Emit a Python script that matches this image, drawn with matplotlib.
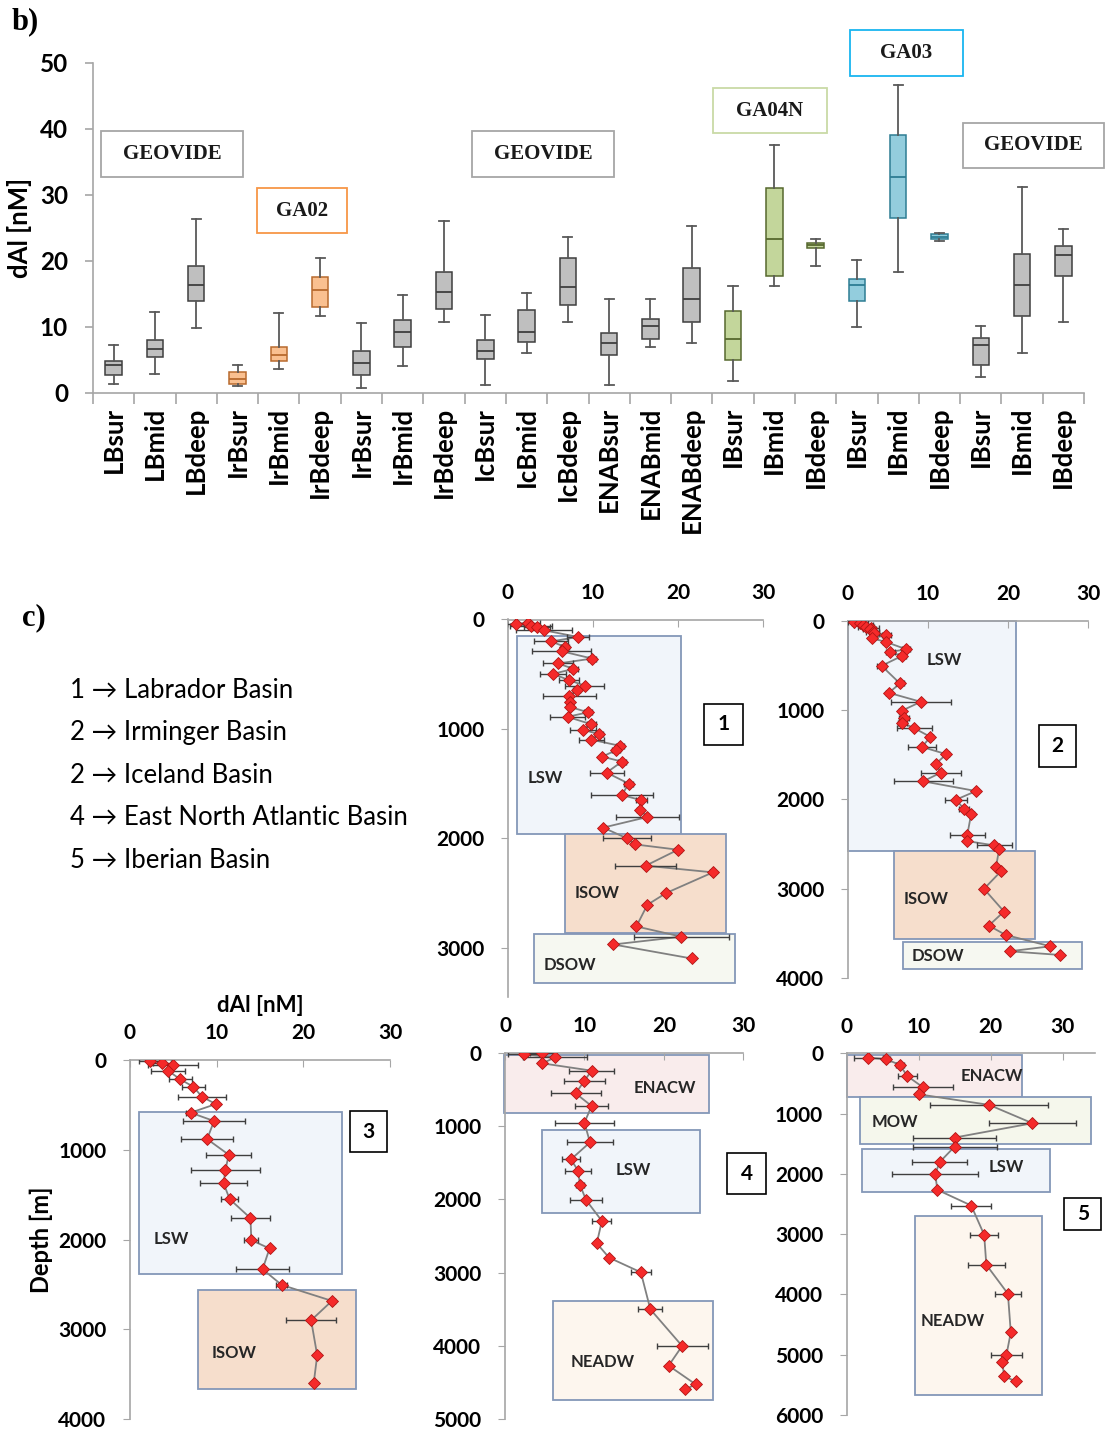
import numpy as np
import matplotlib
matplotlib.use("Agg")
import matplotlib.pyplot as plt
from matplotlib.patches import Rectangle

W, H = 1105, 1431
SANS = ['Lato', 'DejaVu Sans']
SERIF = ['Liberation Serif', 'DejaVu Serif']

# ---------------- b) box plot data ----------------
cats = ['LBsur', 'LBmid', 'LBdeep', 'IrBsur', 'IrBmid', 'IrBdeep', 'IrBsur', 'IrBmid', 'IrBdeep',
        'IcBsur', 'IcBmid', 'IcBdeep', 'ENABsur', 'ENABmid', 'ENABdeep', 'IBsur', 'IBmid', 'IBdeep',
        'IBsur', 'IBmid', 'IBdeep', 'IBsur', 'IBmid', 'IBdeep']
whis_lo = [1.4, 2.9, 9.9, 1.0, 3.7, 11.6, 0.7, 4.1, 10.8, 1.2, 6.0, 10.7, 1.2, 7.0, 7.6, 1.8, 16.2, 19.3,
           10.0, 18.3, 23.1, 2.4, 6.1, 10.8]
q1 = [2.7, 5.5, 14.0, 1.3, 4.9, 13.1, 2.7, 7.0, 12.8, 5.2, 7.8, 13.4, 5.8, 8.2, 10.8, 5.0, 17.8, 22.0,
      13.9, 26.5, 23.4, 4.2, 11.6, 17.8]
med = [4.3, 6.6, 16.3, 2.1, 5.7, 15.6, 4.5, 9.2, 15.3, 6.4, 9.3, 16.1, 7.6, 10.2, 14.3, 8.2, 23.3, 22.4,
       16.3, 32.8, 23.7, 7.3, 16.4, 20.9]
q3 = [4.9, 8.1, 19.3, 3.2, 7.0, 17.6, 6.4, 11.1, 18.4, 8.0, 12.6, 20.4, 9.1, 11.2, 19.0, 12.4, 31.0, 22.8,
      17.2, 39.1, 24.1, 8.3, 21.0, 22.3]
whis_hi = [7.2, 12.3, 26.4, 4.2, 12.1, 20.5, 10.6, 14.8, 26.1, 11.8, 15.1, 23.7, 14.3, 14.3, 25.3, 16.2,
           37.5, 23.3, 20.1, 46.7, 24.2, 10.2, 31.2, 24.9]
cruise = ['GEOVIDE'] * 3 + ['GA02'] * 3 + ['GEOVIDE'] * 9 + ['GA04N'] * 3 + ['GA03'] * 3 + ['GEOVIDE'] * 3

face = {'GEOVIDE': '#BFBFBF', 'GA02': '#FAC090', 'GA04N': '#C3D69B', 'GA03': '#93CDDD'}
edge = {'GEOVIDE': '#3F3F3F', 'GA02': '#B86A2E', 'GA04N': '#56682E', 'GA03': '#2E7D93'}
tag_edge = {'GEOVIDE': '#A6A6A6', 'GA02': '#F79646', 'GA04N': '#C9DAA6', 'GA03': '#19B5F0'}

# cruise tags: text, pixel box (x0, y0, x1, y1)
tags = ['GEOVIDE', 'GA02', 'GEOVIDE', 'GA04N', 'GA03', 'GEOVIDE']
tag_px = [(101, 131, 243, 177), (257, 188, 347, 233), (472, 131, 614, 177),
          (713, 88, 827, 133), (850, 30, 963, 76), (963, 123, 1104, 168)]

# ---------------- c) profile data ----------------
p1_depth = [30, 43, 55, 67, 98, 159, 201, 250, 290, 357, 402, 451, 497, 555, 604, 646, 701, 753, 799, 848,
            890, 957, 1006, 1049, 1098, 1155, 1195, 1253, 1299, 1399, 1500, 1604, 1652, 1738, 1805, 1902,
            2000, 2055, 2104, 2250, 2311, 2500, 2607, 2805, 2899, 2970, 3098]
p1_dal = [2.3, 0.9, 2.7, 3.4, 4.2, 8.2, 5.1, 6.7, 6.3, 9.9, 5.9, 7.7, 5.3, 7.2, 9.0, 8.1, 7.2, 7.3, 7.3, 9.4,
          7.0, 9.8, 8.8, 10.7, 9.8, 13.2, 12.7, 11.1, 13.4, 11.6, 14.2, 13.4, 15.7, 15.5, 16.4, 11.2,
          14.0, 14.9, 20.0, 16.2, 24.1, 18.6, 16.4, 15.1, 20.4, 12.4, 21.6]
p1_err = [1.5, 1.0, 2.5, 1.5, 3.3, 1.3, 2.0, 0.5, 3.5, 0.5, 1.8, 0.5, 1.5, 1.2, 2.3, 0.4, 3.1, 0.3, 0.3, 0.5,
          2.1, 0.5, 1.5, 0.5, 1.5, 0.5, 0.5, 0.3, 0.5, 2.0, 0.5, 3.6, 0.6, 0.3, 3.7, 0.3,
          2.85, 0.3, 0.3, 3.6, 0.3, 0, 0, 0, 5.6, 0, 0]

p2_depth = [11, 30, 49, 67, 86, 97, 123, 135, 161, 198, 236, 321, 348, 396, 505, 703, 807, 908, 1009, 1088,
            1144, 1204, 1301, 1413, 1495, 1600, 1701, 1798, 1907, 2004, 2108, 2161, 2404, 2467, 2516, 2553,
            2759, 2807, 3002, 3256, 3413, 3518, 3645, 3701, 3742]
p2_dal = [0.8, 1.5, 1.9, 2.3, 2.9, 2.7, 3.1, 3.3, 4.8, 3.0, 4.7, 7.3, 5.3, 6.7, 4.2, 6.5, 5.1, 9.1, 6.7, 7.0,
          6.8, 8.3, 10.3, 9.25, 12.3, 11.0, 11.6, 9.4, 16.0, 13.5, 14.5, 15.4, 14.9, 14.9, 18.3, 18.9,
          18.5, 19.1, 17.0, 19.5, 17.6, 19.7, 25.3, 20.2, 26.5]
p2_err = [0.8, 1.0, 1.2, 1.0, 1.0, 0.8, 0.8, 0.6, 0.6, 0.3, 0.3, 0.5, 0.6, 0.5, 0.6, 0.5, 0.3, 3.75, 0.3, 0.6,
          0.6, 2.2, 0.3, 1.8, 0.3, 0.3, 2.5, 3.7, 0.3, 1.4, 0.6, 0.3, 2.2, 0.3, 2.2, 0.3,
          0, 0, 0, 0, 0, 0, 0, 0, 0]

p3_depth = [7, 30, 56, 119, 216, 297, 409, 491, 587, 680, 881, 1056, 1227, 1375, 1550, 1762, 2007, 2100,
            2331, 2506, 2684, 2900, 3290, 3599]
p3_dal = [2.3, 3.7, 5.0, 4.4, 5.8, 7.3, 8.3, 9.9, 7.0, 9.7, 8.9, 11.4, 11.0, 10.8, 11.5, 13.9, 14.0, 16.1,
          15.3, 17.5, 23.3, 20.9, 21.6, 21.2]
p3_err = [1.3, 1.0, 2.9, 2.0, 1.3, 1.3, 2.75, 0.3, 0.5, 3.55, 3.0, 2.6, 4.0, 2.7, 1.0, 2.3, 0.8, 0.3,
          3.1, 0.6, 0.3, 2.9, 0, 0]

p4_depth = [9, 23, 64, 145, 245, 382, 555, 727, 955, 1223, 1455, 1609, 1805, 2009, 2295, 2600, 2795, 2995,
            3500, 4000, 4268, 4523, 4591]
p4_dal = [4.6, 2.4, 6.3, 4.7, 10.9, 10.0, 8.9, 10.9, 10.0, 10.7, 8.3, 9.2, 9.45, 10.2, 12.2, 11.55, 13.1, 17.1,
          18.3, 22.3, 20.6, 24.0, 22.7]
p4_err = [1.5, 2.0, 4.0, 0, 2.85, 2.55, 3.15, 2.1, 3.7, 2.95, 1.15, 1.6, 0.5, 2.0, 1.2, 0, 0, 1.3,
          1.5, 3.2, 0, 0, 0]

p5_depth = [72, 99, 193, 376, 564, 680, 856, 1160, 1398, 1547, 1807, 2006, 2265, 2525, 3011, 3508, 3989,
            4630, 5000, 5127, 5359, 5442]
p5_dal = [3.0, 5.5, 7.4, 8.4, 10.6, 10.0, 19.8, 25.8, 15.0, 15.0, 12.9, 12.3, 12.6, 17.3, 19.1, 19.4, 22.4,
          22.8, 22.2, 21.6, 21.9, 23.5]
p5_err = [2.0, 0.5, 0.5, 1.3, 4.2, 0, 8.2, 6.0, 5.75, 5.85, 3.8, 6.0, 0, 2.8, 1.9, 2.6, 1.8,
          0, 2.2, 0, 0, 0]

# water masses: (name, x0, x1, depth top, depth bottom, label x, label depth)
p1_mass = [('LSW', 1.0, 20.4, 152, 1957, 2.3, 1445), ('ISOW', 6.7, 25.7, 1957, 2866, 7.8, 2500),
           ('DSOW', 3.0, 26.7, 2872, 3323, 4.2, 3160)]
p2_mass = [('LSW', 0.0, 21.0, 0, 2580, 9.8, 441), ('ISOW', 5.8, 23.4, 2580, 3563, 6.9, 3114),
           ('DSOW', 6.9, 29.2, 3600, 3900, 7.9, 3750)]
p3_mass = [('LSW', 1.0, 24.5, 576, 2379, 2.7, 1989), ('ISOW', 7.8, 26.1, 2565, 3662, 9.4, 3260)]
p4_mass = [('ENACW', -0.1, 25.7, 32, 827, 16.2, 486), ('LSW', 4.7, 24.6, 1055, 2191, 13.9, 1600),
           ('NEADW', 6.0, 26.2, 3386, 4736, 8.3, 4214)]
p5_mass = [('ENACW', 0.0, 24.4, 28, 718, 15.8, 376), ('MOW', 1.9, 34.0, 729, 1503, 3.5, 1133),
           ('LSW', 2.1, 28.2, 1586, 2309, 19.7, 1890), ('NEADW', 9.5, 27.1, 2707, 5663, 10.3, 4448)]
mass_face = {'LSW': '#F1F5FA', 'ISOW': '#F6DECC', 'DSOW': '#F6F8F1', 'ENACW': '#F9ECEC',
             'MOW': '#F5F7EC', 'NEADW': '#FDF6EE'}

basins = ['1 \u2192 Labrador Basin', '2 \u2192 Irminger Basin', '2 \u2192 Iceland Basin',
          '4 \u2192 East North Atlantic Basin', '5 \u2192 Iberian Basin']


def frect(x0, y0, x1, y1):
    # pixel box (top-left origin) -> figure fraction rect
    return [x0 / W, 1 - y1 / H, (x1 - x0) / W, (y1 - y0) / H]


fig = plt.figure(figsize=(W / 100, H / 100), dpi=100)

# ---------------- b) ----------------
ax = fig.add_axes(frect(93, 63, 1084, 393))
stats = [dict(med=m, q1=a, q3=b, whislo=lo, whishi=hi, label=c)
         for m, a, b, lo, hi, c in zip(med, q1, q3, whis_lo, whis_hi, cats)]
bp = ax.bxp(stats, positions=np.arange(len(cats)), widths=0.4, patch_artist=True, showfliers=False,
            capwidths=0.22, manage_ticks=False)
for i, cr in enumerate(cruise):
    bp['boxes'][i].set(facecolor=face[cr], edgecolor=edge[cr], linewidth=1.1)
    bp['medians'][i].set(color=edge[cr], linewidth=1.3)
    for j in (2 * i, 2 * i + 1):
        bp['whiskers'][j].set(color='#595959', linewidth=1.3)
        bp['caps'][j].set(color='#595959', linewidth=1.3)
ax.set_xlim(-0.5, len(cats) - 0.5)
ax.set_ylim(0, 50)
ax.set_yticks(range(0, 51, 10))
ax.set_xticks(np.arange(len(cats)))
ax.set_xticklabels(cats, rotation=90, fontsize=18.5, fontweight='bold', family=SANS)
ax.set_xticks(np.arange(len(cats) + 1) - 0.5, minor=True)
ax.tick_params(axis='x', which='major', length=0, pad=10)
ax.tick_params(axis='x', which='minor', length=8, color='#A6A6A6', width=1.2)
ax.tick_params(axis='y', length=6, color='#A6A6A6', width=1.2, pad=12, labelsize=17.5)
for lab in ax.get_yticklabels():
    lab.set_fontweight('bold')
    lab.set_family(SANS)
for s in ('top', 'right'):
    ax.spines[s].set_visible(False)
for s in ('left', 'bottom'):
    ax.spines[s].set_color('#A6A6A6')
    ax.spines[s].set_linewidth(1.2)
ax.set_ylabel('dAl [nM]', fontsize=18.5, fontweight='bold', family=SANS, labelpad=6)

for t, (x0, y0, x1, y1) in zip(tags, tag_px):
    fig.add_artist(Rectangle((x0 / W, 1 - y1 / H), (x1 - x0) / W, (y1 - y0) / H,
                             transform=fig.transFigure, facecolor='white',
                             edgecolor=tag_edge[t], linewidth=1.3))
    fig.text((x0 + x1) / 2 / W, 1 - (y0 + y1) / 2 / H, t, ha='center', va='center',
             fontsize=15, fontweight='bold', family=SERIF, color='#1a1a1a')

fig.text(12 / W, 1 - 22 / H, 'b)', fontsize=22, fontweight='bold', family=SERIF, va='center')
fig.text(22 / W, 1 - 618 / H, 'c)', fontsize=22, fontweight='bold', family=SERIF, va='center')

for k, b in enumerate(basins):
    fig.text(70 / W, 1 - (690 + 42.5 * k) / H, b, fontsize=18.5, family=SANS, va='center')


# ---------------- c) ----------------
def profile(rect, dal, depth, err, masses, num, numbox, xmax, ymax, ytop):
    a = fig.add_axes(rect)
    dal = np.array(dal)
    depth = np.array(depth)
    err = np.array(err)
    for name, x0, x1, d0, d1, lx, ld in masses:
        a.add_patch(Rectangle((x0, d0), x1 - x0, d1 - d0, facecolor=mass_face[name],
                              edgecolor='#8497B8', linewidth=1.3, zorder=0.5, clip_on=False))
        a.text(lx, ld, name, fontsize=12, fontweight='bold', family=SANS, color='#262626',
               va='center', ha='left', zorder=1)
    a.plot(dal, depth, '-', color='#808080', linewidth=1.3, zorder=2)
    m = err > 0
    a.errorbar(dal[m], depth[m], xerr=err[m], fmt='none', ecolor='#3F3F3F', elinewidth=1.0,
               capsize=2.5, capthick=1.0, zorder=3)
    a.plot(dal, depth, 'D', markersize=6.3, markerfacecolor='#F52A2A', markeredgecolor='#B01515',
           markeredgewidth=0.6, zorder=4)
    x0, x1, d0, d1 = numbox
    a.add_patch(Rectangle((x0, d0), x1 - x0, d1 - d0, facecolor='white', edgecolor='black',
                          linewidth=1.2, zorder=5, clip_on=False))
    a.text((x0 + x1) / 2, (d0 + d1) / 2, num, ha='center', va='center', fontsize=15,
           fontweight='bold', family=SANS, zorder=6, clip_on=False)
    a.set_xlim(0, xmax)
    a.set_ylim(ymax, 0)
    a.set_xticks([0, 10, 20, 30])
    a.set_yticks(np.arange(0, ytop + 1, 1000))
    a.xaxis.tick_top()
    a.tick_params(axis='x', direction='in', length=5, color='#A6A6A6', pad=12, labelsize=15)
    a.tick_params(axis='y', direction='out', length=5, color='#A6A6A6', pad=12, labelsize=15)
    for lab in a.get_xticklabels() + a.get_yticklabels():
        lab.set_fontweight('bold')
        lab.set_family(SANS)
    for s in ('bottom', 'right'):
        a.spines[s].set_visible(False)
    for s in ('top', 'left'):
        a.spines[s].set_color('#A6A6A6')
        a.spines[s].set_linewidth(1.2)
    return a


profile(frect(508, 619.5, 763, 997), p1_dal, p1_depth, p1_err, p1_mass, '1',
        (23.1, 27.6, 768, 1150), 30, 3450, 3000)
profile(frect(848, 620.7, 1088, 978), p2_dal, p2_depth, p2_err, p2_mass, '2',
        (23.9, 28.5, 1170, 1637), 30, 4000, 4000)
ax3 = profile(frect(130, 1060, 390, 1419), p3_dal, p3_depth, p3_err, p3_mass, '3',
              (25.4, 29.7, 569, 1030), 30, 4000, 4000)
profile(frect(505, 1052.7, 743.3, 1419.3), p4_dal, p4_depth, p4_err, p4_mass, '4',
        (28.0, 32.8, 1364, 1932), 30, 5000, 5000)
profile(frect(846.7, 1053.3, 1095, 1415), p5_dal, p5_depth, p5_err, p5_mass, '5',
        (30.2, 35.4, 2403, 2928), 34.5, 6000, 6000)

ax3.xaxis.set_label_position('top')
ax3.set_xlabel('dAl [nM]', fontsize=16, fontweight='bold', family=SANS, labelpad=8)
ax3.set_ylabel('Depth [m]', fontsize=17, fontweight='bold', family=SANS, labelpad=4)

fig.savefig('out.png', dpi=100)
